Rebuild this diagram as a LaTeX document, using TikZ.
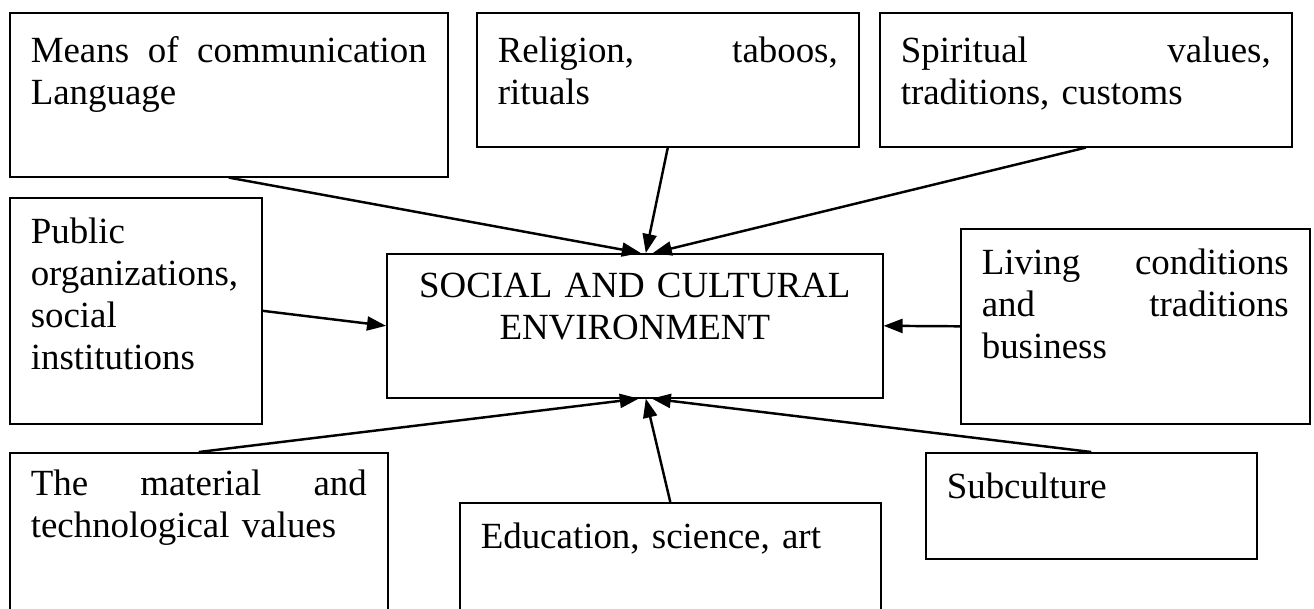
\documentclass[tikz,border=0pt]{standalone}
\usepackage{fontspec}
\setmainfont{Liberation Serif}
\usetikzlibrary{arrows.meta}

\tikzset{
  factor/.style={draw, line width=0.45pt, anchor=north west, text width=#1,
    inner xsep=2.1mm, inner ysep=2mm, text height=2.6mm,
    font=\fontsize{10.5}{11.95}\selectfont},
  influence/.style={-{Triangle[length=1.9mm,width=1.4mm]}, line width=0.7pt}
}

\begin{document}
\begin{tikzpicture}[x=1mm,y=-1mm]
\useasboundingbox (0,0) rectangle (131.4,60.8);
% top row
\node[factor=39.6mm, inner ysep=2.4mm, text depth=9mm] (means) at (0.9,1.2)
  {Means\hfill of\hfill communication\\Language};
\node[factor=34mm, inner ysep=2.4mm, text depth=6mm] (religion) at (47.6,1.2)
  {Religion,\hfill taboos,\\rituals};
\node[factor=37mm, inner ysep=2.4mm, text depth=6mm] (spirit) at (87.9,1.2)
  {Spiritual\hfill values,\\traditions, customs};
% middle row
\node[factor=21mm, text depth=16mm] (public) at (0.9,19.7)
  {Public\\organizations,\\social\\institutions};
\node[factor=45.4mm, align=center, inner ysep=1.8mm, text depth=8.2mm] (env) at (38.6,25.3)
  {SOCIAL AND CULTURAL\\ENVIRONMENT};
\node[factor=30.7mm, text depth=12.9mm] (living) at (96,22.8)
  {Living\hfill conditions\\and\hfill traditions\\business};
% bottom row
\node[factor=33.6mm, inner ysep=1.7mm, text depth=11mm] (material) at (0.9,45.2)
  {The\hfill material\hfill and\\technological values};
\node[factor=37.9mm, text depth=5.4mm] (edu) at (45.9,50.2)
  {Education, science, art};
\node[factor=28.9mm, text depth=4mm] (subcult) at (92.5,45.2)
  {Subculture};

\draw[influence] (means.south) -- ([xshift=0.6mm]env.north);
\draw[influence] (religion.south) -- ([xshift=1.1mm]env.north);
\draw[influence] (spirit.south) -- ([xshift=1.8mm]env.north);
\draw[influence] (public.east) -- (env.west);
\draw[influence] (living.west) -- (env.east);
\draw[influence] (material.north) -- ([xshift=0.4mm]env.south);
\draw[influence] (edu.north) -- ([xshift=1.1mm]env.south);
\draw[influence] (subcult.north) -- ([xshift=1.7mm]env.south);
\end{tikzpicture}
\end{document}
